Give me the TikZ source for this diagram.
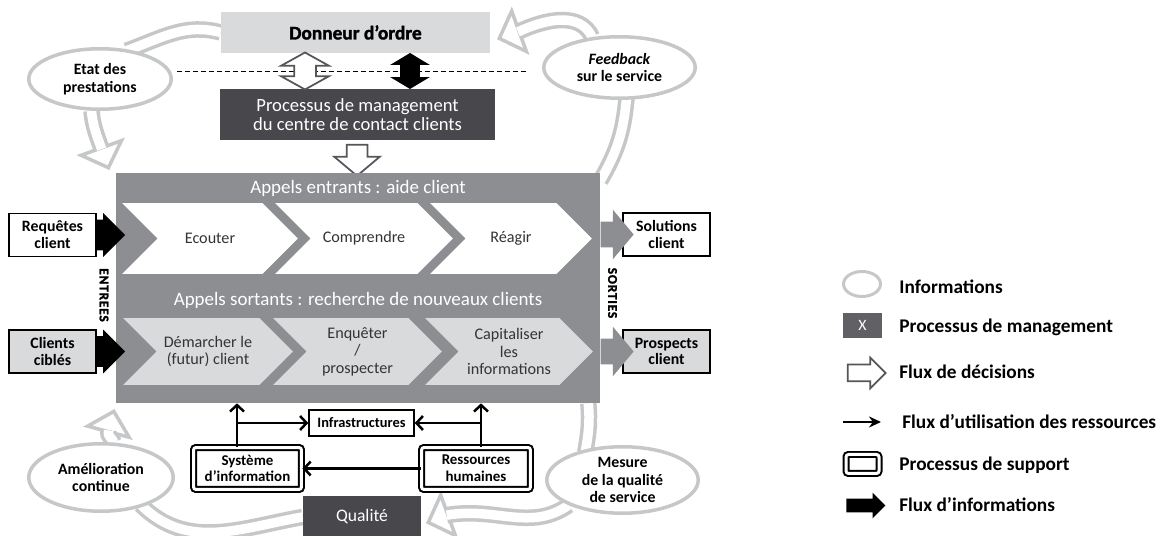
\documentclass[tikz,border=0pt]{standalone}
\usepackage{fontspec}
\setmainfont{Carlito}
\newfontfamily\heavyfont{Carlito}[FakeBold=1.6]
\usetikzlibrary{shapes.geometric, shapes.symbols, shapes.arrows, arrows.meta, backgrounds}

\definecolor{mgmtgrey}{HTML}{48484C}
\definecolor{callgrey}{HTML}{8D8E92}
\definecolor{palegrey}{HTML}{D9DADC}
\definecolor{ringgrey}{HTML}{C6C7C9}
\definecolor{decgrey}{HTML}{56565A}
\definecolor{keygrey}{HTML}{616165}
\definecolor{chevtext}{HTML}{343436}

\tikzset{
  bubble/.style={ellipse, draw=ringgrey, line width=0.07cm, fill=white, inner sep=0pt, align=center, font=\fontsize{9}{10}\selectfont\bfseries},
  band/.style={draw=ringgrey, line width=0.07cm, double=white, double distance=0.19cm, shorten >=-0.06cm},
  bandhead/.style={isosceles triangle, isosceles triangle stretches, draw=ringgrey, line width=0.07cm, fill=white, inner sep=0pt, minimum width=0.86cm, minimum height=0.42cm, anchor=apex},
  mgmtbox/.style={rectangle, fill=mgmtgrey, text=white, inner sep=0pt, align=center},
  chevron/.style={signal, signal from=west, signal to=east, signal pointer angle=90, inner sep=0pt, align=center, text=chevtext, font=\fontsize{9.2}{10}\selectfont},
  iobox/.style={rectangle, draw=black, line width=0.03cm, fill=white, inner sep=0pt, minimum width=1.74cm, minimum height=0.86cm, align=center, font=\fontsize{9}{9.6}\selectfont\bfseries},
  supportbox/.style={rectangle, draw=black, double=white, double distance=0.06cm, line width=0.04cm, rounded corners=0.05cm, fill=white, inner sep=0pt, align=center, font=\fontsize{8.5}{9.5}\selectfont\bfseries},
  infoflow/.style={single arrow, fill=black, inner xsep=0pt, inner ysep=0.3cm, single arrow head extend=0.13cm, minimum height=0.56cm, anchor=tail},
  outflow/.style={single arrow, fill=callgrey, inner xsep=0pt, inner ysep=0.25cm, single arrow tip angle=100, single arrow head extend=0.24cm, minimum height=0.66cm, anchor=tail},
  decflow/.style={draw=decgrey, line width=0.035cm, fill=white, inner xsep=0pt},
  resflow/.style={line width=0.05cm, -{Straight Barb[length=0.13cm, width=0.28cm]}},
  sidetag/.style={font=\heavyfont\fontsize{7.6}{7.6}\selectfont\bfseries\addfontfeature{LetterSpace=6}, inner sep=0pt},
  keytext/.style={anchor=west, inner sep=0pt, font=\fontsize{11}{12}\selectfont\bfseries}
}

\begin{document}
\begin{tikzpicture}[x=0.02cm, y=0.02cm]
  \useasboundingbox (0,0) rectangle (1167,-536);

  % donneur d'ordre et management
  \node[rectangle, fill=palegrey, inner sep=0pt, minimum width=5.38cm, minimum height=0.82cm, font=\heavyfont\fontsize{11}{12}\selectfont\bfseries] (donneur) at (355.5,-32.5) {Donneur d’ordre};
  \node[mgmtbox, minimum width=5.5cm, minimum height=1.02cm, font=\fontsize{10.6}{10.4}\selectfont] (mgmt) at (357.5,-114.5) {Processus de management\\du centre de contact clients};
  \draw[black, line width=0.02cm, dash pattern=on 0.1cm off 0.06cm] (177,-72) -- (527,-72);
  \node[double arrow, decflow, inner ysep=0.2cm, rotate=90, double arrow tip angle=122, double arrow head extend=0.26cm, minimum height=0.74cm] (decup) at (305,-71) {};
  \node[double arrow, fill=black, inner xsep=0pt, inner ysep=0.19cm, rotate=90, double arrow tip angle=118, double arrow head extend=0.2cm, minimum height=0.72cm] (infoup) at (410,-71) {};
  \node[single arrow, decflow, inner ysep=0.19cm, rotate=-90, single arrow tip angle=100, single arrow head extend=0.25cm, minimum height=0.62cm] (decdown) at (357,-156) {};

  % centre de contact
  \node[rectangle, fill=callgrey, inner sep=0pt, minimum width=9.68cm, minimum height=4.6cm] (callbox) at (358,-288) {};
  \node[text=white, inner sep=0pt, font=\fontsize{10.8}{12}\selectfont] (intitle) at (358,-188) {Appels entrants : aide client};
  \node[chevron, fill=white, minimum width=3.52cm, minimum height=1.42cm] (ecouter) at (210,-238.5) {Ecouter};
  \node[chevron, fill=white, minimum width=3.56cm, minimum height=1.42cm] (comprendre) at (364,-238.5) {Comprendre};
  \node[chevron, fill=white, minimum width=3.24cm, minimum height=1.42cm] (reagir) at (511,-238.5) {Réagir};
  \node[text=white, inner sep=0pt, font=\fontsize{10.8}{12}\selectfont] (outtitle) at (358,-300) {Appels sortants : recherche de nouveaux clients};
  \node[chevron, fill=palegrey, minimum width=3.4cm, minimum height=1.34cm] (demarcher) at (208,-351.5) {Démarcher le\\(futur) client};
  \node[chevron, fill=palegrey, minimum width=3.38cm, minimum height=1.34cm] (enqueter) at (357.5,-351.5) {Enquêter\\/\\prospecter};
  \node[chevron, fill=palegrey, minimum width=3.36cm, minimum height=1.34cm] (capitaliser) at (509,-351.5) {Capitaliser\\les\\informations};

  % entrees et sorties
  \node[iobox] (requetes) at (52.5,-235) {Requêtes\\client};
  \node[iobox, fill=palegrey] (cibles) at (52.5,-351.5) {Clients\\ciblés};
  \node[iobox] (solutions) at (666.5,-234.5) {Solutions\\client};
  \node[iobox, fill=palegrey] (prospects) at (666.5,-351.5) {Prospects\\client};
  \node[infoflow] (reqin) at (requetes.east) {};
  \node[infoflow] (ciblin) at (cibles.east) {};
  \node[outflow] (solout) at (callbox.east |- solutions) {};
  \node[outflow] (prospout) at (callbox.east |- prospects) {};
  \node[sidetag, rotate=-90] (entrees) at (104,-295) {ENTREES};
  \node[sidetag, rotate=-90] (sorties) at (612.5,-293) {SORTIES};

  % processus de support
  \node[rectangle, draw=black, line width=0.03cm, fill=white, inner sep=0pt, minimum width=2.1cm, minimum height=0.52cm, font=\fontsize{8.2}{9}\selectfont\bfseries] (infra) at (361.5,-423) {Infrastructures};
  \node[supportbox, minimum width=2.16cm, minimum height=0.84cm] (sysinfo) at (247.5,-468.5) {Système\\d’information};
  \node[supportbox, minimum width=2.18cm, minimum height=0.84cm] (rh) at (476,-468.5) {Ressources\\humaines};
  \node[mgmtbox, minimum width=2.36cm, minimum height=0.84cm, font=\fontsize{10}{11}\selectfont] (qualite) at (362,-517) {Qualité};
  \coordinate (sysup) at ([xshift=-0.21cm]sysinfo.north);
  \coordinate (rhup) at ([xshift=0.1cm]rh.north);
  \draw[resflow] (sysup) -- (sysup |- callbox.south);
  \draw[resflow] (sysup |- infra.west) -- (infra.west);
  \draw[resflow] (rhup) -- (rhup |- callbox.south);
  \draw[resflow] (rhup |- infra.east) -- (infra.east);
  \draw[resflow] (rh.west) -- (sysinfo.east);

  % informations
  \node[bubble, minimum width=2.85cm, minimum height=1.21cm] (etat) at (100,-79) {Etat des\\prestations};
  \node[bubble, minimum width=3.03cm, minimum height=1.23cm] (feedback) at (619.5,-67.5) {\textit{Feedback}\\sur le service};
  \node[bubble, minimum width=2.89cm, minimum height=1.35cm] (amelioration) at (101,-477.5) {Amélioration\\continue};
  \node[bubble, minimum width=3.03cm, minimum height=1.33cm] (mesure) at (622.5,-480) {Mesure\\de la qualité\\de service};

  \begin{scope}[on background layer]
    \node[bandhead, rotate=-70] (headB) at (110,-172) {};
    \node[bandhead, rotate=200] (headD) at (495,-40) {};
    \node[bandhead, rotate=200] (headF) at (424,-524) {};
    \node[bandhead, rotate=75] (headH) at (115,-407) {};
    \draw[band] (donneur.west) to[out=165, in=20] (etat.45);
    \draw[band] (etat.255) to[out=-85, in=110] (headB.lower side);
    \draw[band] ([yshift=-0.16cm]callbox.north east) to[out=60, in=-95] (feedback.-78);
    \draw[band] (feedback.132) to[out=115, in=25] (headD.lower side);
    \draw[band] ([xshift=-0.24cm]callbox.south east) to[out=-85, in=80] (mesure.140);
    \draw[band] (mesure.205) to[out=215, in=10] (headF.lower side);
    \draw[band] (qualite.west) to[out=190, in=-45] (amelioration.-35);
    \draw[band] (amelioration.70) to[out=95, in=255] (headH.lower side);
  \end{scope}

  % legende
  \node[ellipse, draw=ringgrey, line width=0.06cm, inner sep=0pt, minimum width=0.74cm, minimum height=0.5cm] (keybubble) at (862,-284) {};
  \node[keytext] (keybubbletext) at (899,-287) {Informations};
  \node[rectangle, fill=keygrey, text=white, inner sep=0pt, minimum width=0.78cm, minimum height=0.5cm, font=\fontsize{9}{10}\selectfont] (keymgmt) at (862.5,-325.5) {X};
  \node[keytext] (keymgmttext) at (899,-327) {Processus de management};
  \node[single arrow, decflow, inner ysep=0.15cm, single arrow head extend=0.14cm, minimum height=0.76cm] (keydec) at (862.5,-373) {};
  \node[keytext] (keydectext) at (899,-372) {Flux de décisions};
  \coordinate (keyresA) at (843,-422);
  \coordinate (keyresB) at (881,-422);
  \draw[line width=0.05cm, -{Stealth[length=0.24cm, width=0.22cm]}] (keyresA) -- (keyresB);
  \node[keytext] (keyrestext) at (902,-422) {Flux d’utilisation des ressources};
  \node[supportbox, minimum width=0.66cm, minimum height=0.38cm] (keysup) at (862.5,-464) {};
  \node[keytext] (keysuptext) at (899,-465) {Processus de support};
  \node[single arrow, fill=black, inner xsep=0pt, inner ysep=0.13cm, single arrow head extend=0.12cm, minimum height=0.78cm] (keyinfo) at (862.5,-505.5) {};
  \node[keytext] (keyinfotext) at (899,-505) {Flux d’informations};
\end{tikzpicture}
\end{document}
